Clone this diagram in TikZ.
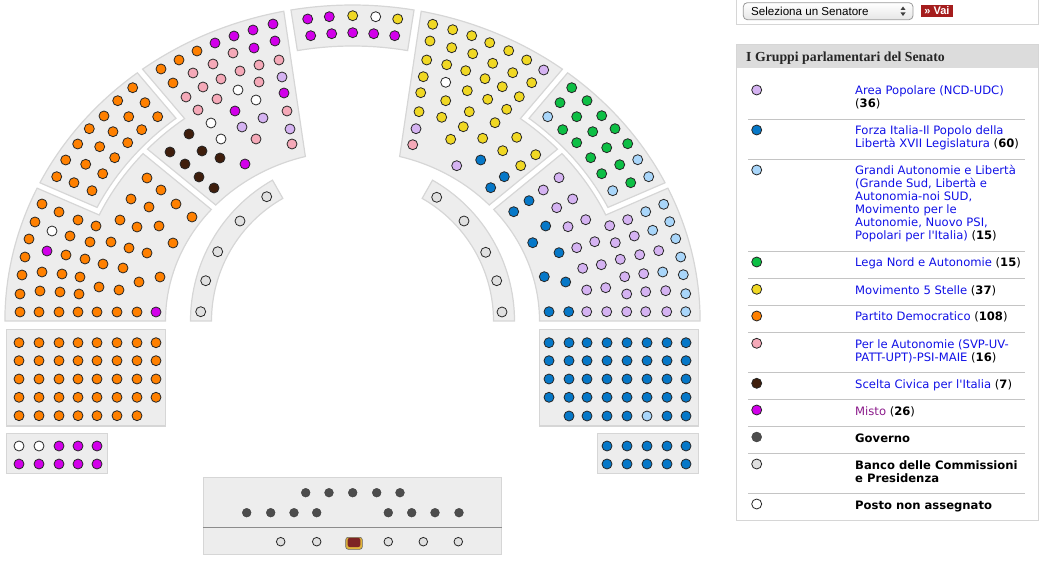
\documentclass[tikz,border=0pt]{standalone}
\usepackage{fontspec}
\newfontfamily\verdfont{DejaVu Sans}
\newfontfamily\headfont{Liberation Serif}
\newfontfamily\selfont{Liberation Sans}
\usepackage{xcolor}
\definecolor{blockfill}{HTML}{EDEDED}
\definecolor{blockline}{HTML}{D6D6D6}
\definecolor{pdorange}{HTML}{FF8000}
\definecolor{mistomag}{HTML}{D200EA}
\definecolor{autpink}{HTML}{F5A9B8}
\definecolor{aplav}{HTML}{D5B3F2}
\definecolor{scbrown}{HTML}{3F1E0C}
\definecolor{msyellow}{HTML}{F0D824}
\definecolor{lngreen}{HTML}{0DBF45}
\definecolor{fiblue}{HTML}{0678C8}
\definecolor{galblue}{HTML}{A9D6FA}
\definecolor{govgray}{HTML}{4D4D4D}
\definecolor{comgray}{HTML}{E0E0E0}
\definecolor{linkblue}{HTML}{1010E6}
\definecolor{mistotext}{HTML}{8B1A8B}
\definecolor{vaired}{HTML}{A51D1D}
\definecolor{headgray}{HTML}{DCDCDC}
\definecolor{sepgray}{HTML}{C4C4C4}
\definecolor{presred}{HTML}{7E2424}
\definecolor{presgold}{HTML}{E0B43C}

\tikzset{
  block/.style={fill=blockfill, draw=blockline, line width=1.2pt},
  seat/.style={draw=black!85, line width=0.8pt},
  gov/.style={fill=govgray, draw=govgray!80!black, line width=0.4pt},
  comseat/.style={fill=comgray, draw=black!85, line width=0.8pt},
  legsep/.style={draw=sepgray, line width=0.9pt},
  legtext/.style={anchor=base west, inner sep=0pt, align=left, text=linkblue, font=\verdfont\fontsize{11.6}{13}\selectfont},
}

\begin{document}
\begin{tikzpicture}[x=1pt, y=-1pt]
\useasboundingbox (0,0) rectangle (1047,561);

% hemicycle, stretched sideways
\begin{scope}[shift={(352.5,321)}, xscale=1.1, yscale=-1]
\draw[block] (180:316) arc[start angle=180, end angle=155.14, radius=316] -- (155.28:253.5) arc[start angle=155.28, end angle=138.68, radius=253.5] -- (139.01:170) arc[start angle=139.01, end angle=180, radius=170] -- cycle;
\draw[block] (154.06:316) arc[start angle=154.06, end angle=128.24, radius=316] -- (128.37:258.5) arc[start angle=128.37, end angle=153.94, radius=258.5] -- cycle;
\draw[block] (127.16:316) arc[start angle=127.16, end angle=101.4, radius=316] -- (104.6:170) arc[start angle=104.6, end angle=136.99, radius=170] -- (137.32:253.5) arc[start angle=137.32, end angle=127.02, radius=253.5] -- cycle;
\draw[block] (100.2:316) arc[start angle=100.2, end angle=79.8, radius=316] -- (79.5:275) arc[start angle=79.5, end angle=100.5, radius=275] -- cycle;
\draw[block] (52.84:316) arc[start angle=52.84, end angle=78.6, radius=316] -- (75.4:170) arc[start angle=75.4, end angle=43.01, radius=170] -- (42.68:253.5) arc[start angle=42.68, end angle=52.98, radius=253.5] -- cycle;
\draw[block] (25.94:316) arc[start angle=25.94, end angle=51.76, radius=316] -- (51.63:258.5) arc[start angle=51.63, end angle=26.06, radius=258.5] -- cycle;
\draw[block] (0:316) arc[start angle=0, end angle=24.86, radius=316] -- (24.72:253.5) arc[start angle=24.72, end angle=41.32, radius=253.5] -- (40.99:170) arc[start angle=40.99, end angle=0, radius=170] -- cycle;
\end{scope}

% commission benches
\begin{scope}[shift={(352.5,321)}, yscale=-1]
\draw[block] (180:162) arc[start angle=180, end angle=119.6, radius=162] -- (119.6:141) arc[start angle=119.6, end angle=180, radius=141] -- cycle;
\draw[block] (0:162) arc[start angle=0, end angle=60.4, radius=162] -- (60.4:141) arc[start angle=60.4, end angle=0, radius=141] -- cycle;
\end{scope}

\draw[block] (6.7,329.3) rectangle (165.7,426);
\draw[block] (6.7,433.3) rectangle (107.3,473.3);
\draw[block] (539.3,329.3) rectangle (698.3,426);
\draw[block] (597.7,433.3) rectangle (698.3,473.3);
\draw[block] (203.3,477.3) rectangle (501.7,554.3);
\draw[black!45, line width=1pt] (203.3,527.3) -- (501.7,527.3);

% Partito Democratico
\foreach \x/\y in {20/312, 39/312, 59/312, 78/312, 97/312, 117/312, 137/312,
  42/204, 35/222, 29/239, 25/257, 22/275, 20/294, 59/212, 42/272, 40/291,
  78/220, 70/236, 66/255, 62/274, 60/292, 96/226, 90/242, 85/259, 80/277, 79/294,
  147/178, 131/199, 120/220, 111/242, 103/264, 99/287, 161/190, 149/207, 137/227, 129/248, 123/268, 119/290,
  176/204, 159/226, 147/253, 139/282, 192/217, 173/243, 160/277,
  132.7/87.7, 117.7/100.7, 145/102.7, 104/116, 128.7/116.7, 157.7/116.7, 89.3/128.7, 113/131.7, 141.7/129.7,
  77.7/144, 99.7/146.7, 127.7/142.7, 65.7/160, 85.7/164.3, 114.7/157.7, 56.7/176.7, 74/182.7, 102.7/173.7, 92/190.7,
  161/69, 179/60, 197/51, 173/83}
  \draw[seat, fill=pdorange] (\x,\y) circle (5);
\foreach \y in {342.7, 360.7, 379, 397.3}
  \foreach \x in {19, 39, 59, 78, 97, 117, 137, 156}
    \draw[seat, fill=pdorange] (\x,\y) circle (5);
\foreach \x in {19, 39, 59, 78, 97, 117, 137}
  \draw[seat, fill=pdorange] (\x,415.7) circle (5);

% Misto
\foreach \x/\y in {47/251, 156/312, 215/43, 234/36, 253/30, 273/24, 254/48, 275/41, 235/111, 284/93, 245/164,
  307.7/19, 329.3/16.7, 310.7/35.7, 331.7/33.7, 352.7/32.7, 373.7/33.7, 394.7/35.7,
  59/446, 78/446, 97/446, 19/464, 39/464, 59/464, 78/464, 97/464}
  \draw[seat, fill=mistomag] (\x,\y) circle (5);

% Per le Autonomie
\foreach \x/\y in {193/73, 213/64, 233/53, 186/97, 203/87, 221/79, 240/71, 259/65, 279/60, 198/110, 217/99,
  259/82, 287/111, 256/139, 292/144, 412.7/144.7}
  \draw[seat, fill=autpink] (\x,\y) circle (5);

% Scelta Civica
\foreach \x/\y in {189/134, 170/152, 202/151, 220/158, 185/164, 199/177, 214/188}
  \draw[seat, fill=scbrown] (\x,\y) circle (5);

% posti non assegnati
\foreach \x/\y in {52/231, 238/90, 211/123, 256/100, 221/139, 375.7/16.7, 445.7/82.3, 19/446, 39/446}
  \draw[seat, fill=white] (\x,\y) circle (5);

% Area Popolare
\foreach \x/\y in {282/77, 242/127, 263/118, 290/129, 543.7/70, 416/128.7, 456.7/165.7,
  559/177.7, 543.3/190, 572.7/199, 556.7/207.7, 568/226.7, 585.7/219.7, 609.7/225.7, 627.7/219.7,
  576.7/247.7, 594.7/241.7, 615.3/242.7, 634.3/236, 582.7/268.3, 601.3/264.7, 620.3/259.3, 639.7/254.7, 658.7/250.7,
  624.7/276.7, 643.7/273.7, 586.7/290, 605.7/287.7, 626.7/294, 645.7/291.7, 665.7/290.7,
  586.7/311.7, 606.7/311.7, 626.7/311.7, 645.7/311.7, 666.7/311.7}
  \draw[seat, fill=aplav] (\x,\y) circle (5);

% Movimento 5 Stelle
\foreach \x/\y in {352.7/15.7, 397.7/19,
  432.7/24.3, 452.7/29.7, 471.7/35.7, 489.7/42.7, 508.7/50.7, 526.7/60,
  430/41, 451.7/47.7, 472.7/53.7, 492.7/63.3, 512.7/72.7, 531.7/82.7,
  426.7/60, 446.7/64.7, 465.7/70.7, 485/78.7, 502.3/86.7, 519.3/96.7,
  423.3/76.7, 467.3/90.7, 487.7/99.3, 506.7/109.3, 420.7/92.7, 445.7/100.7, 469.3/111.7, 495/122.7,
  419/111.7, 441.7/117.3, 463.3/126.7, 450.7/139.3, 482.7/138.3, 516.7/137.3, 502.7/150.7, 535.7/154.7, 520.7/165.7}
  \draw[seat, fill=msyellow] (\x,\y) circle (5);

% Lega Nord
\foreach \x/\y in {571.7/87.7, 560/102.7, 587/100.7, 576.7/116.7, 601.7/115.7, 562.7/129.7, 592.7/131.7, 615/128.7,
  576.7/142.7, 606.7/147.7, 627.7/143.7, 590.7/157.7, 619.7/164.7, 601.7/173.7, 630.7/182.7}
  \draw[seat, fill=lngreen] (\x,\y) circle (5);

% Grandi Autonomie e Liberta
\foreach \x/\y in {547.7/116.7, 637.7/159.7, 648.7/176.7, 612.7/190.7, 645.7/211.7, 663.7/204.3, 669.7/221.7,
  652.7/230.3, 675.7/238.7, 680.7/257, 662.7/272, 683.3/274.7, 685.7/293.7, 685.7/311.7, 647/416}
  \draw[seat, fill=galblue] (\x,\y) circle (5);

% Forza Italia
\foreach \x/\y in {480.7/160, 504.3/176.7, 490.7/187.7, 529/200.7, 513.7/211.7, 545.7/226, 532.7/242.7,
  559/252.7, 544.3/276.7, 565.7/282, 549/311.7, 568.7/311.7}
  \draw[seat, fill=fiblue] (\x,\y) circle (5);
\foreach \y in {342.7, 360.7, 379, 397.3}
  \foreach \x in {549, 569, 587, 607, 627, 647, 667, 686}
    \draw[seat, fill=fiblue] (\x,\y) circle (5);
\foreach \x in {569, 587, 607, 627, 667, 686}
  \draw[seat, fill=fiblue] (\x,416) circle (5);
\foreach \y in {446, 464}
  \foreach \x in {607, 627, 647, 667, 686}
    \draw[seat, fill=fiblue] (\x,\y) circle (5);

% commissioni e governo
\foreach \x/\y in {266.7/196.7, 240/221, 217.7/251.7, 205.7/280.7, 200.7/311.7,
  436.7/197.3, 464/221, 485.7/252.3, 496.7/280.7, 502/312}
  \draw[comseat] (\x,\y) circle (5);
\foreach \x in {305.7, 329, 352.7, 376.7, 400}
  \draw[gov] (\x,492.7) circle (4.4);
\foreach \x in {246.7, 270.7, 294, 316.7, 388.3, 411.7, 435, 459}
  \draw[gov] (\x,512.7) circle (4.4);
\foreach \x in {280.7, 316.7, 388.3, 423.3, 458.3}
  \draw[comseat] (\x,541.7) circle (4.3);
\filldraw[fill=presgold, draw=black!60, line width=0.6pt, rounded corners=2.5pt] (345.7,537.3) rectangle (362.3,549.3);
\fill[presred, rounded corners=2pt] (347.7,537.9) rectangle (360.3,547);

% selector
\draw[blockline, line width=1pt] (736.7,0) -- (736.7,25) -- (1038.3,25) -- (1038.3,0);
\shade[top color=white, bottom color=black!10, rounded corners=4pt] (743.3,2.7) rectangle (913,19.7);
\draw[black!40, rounded corners=4pt, line width=0.8pt] (743.3,2.7) rectangle (913,19.7);
\node[anchor=base west, inner sep=0pt, font=\selfont\fontsize{11.6}{13}\selectfont] (selnode) at (751,15.5) {Seleziona un Senatore};
\fill[black!75] (900.5,10) -- (905.5,10) -- (903,6.5) -- cycle;
\fill[black!75] (900.5,12.5) -- (905.5,12.5) -- (903,16) -- cycle;
\node[fill=vaired, text=white, inner sep=0pt, minimum width=32pt, minimum height=12pt, font=\selfont\bfseries\fontsize{11}{12}\selectfont] (vai) at (937,11) {» Vai};

% legenda
\draw[blockline, line width=1pt] (736.7,45) rectangle (1038.3,520.3);
\fill[headgray] (737.2,45.5) rectangle (1037.8,68.3);
\node[anchor=base west, inner sep=0pt, text=black!85, font=\headfont\bfseries\fontsize{13.8}{16}\selectfont] (ghead) at (746,61.5) {I Gruppi parlamentari del Senato};

\foreach \y in {119.3, 159.3, 251.7, 278.7, 305.3, 332.3, 372.3, 399.3, 426.3, 453.3, 493.3}
  \draw[legsep] (748.3,\y) -- (1025,\y);

\draw[seat, fill=aplav] (756.7,90) circle (5);
\draw[seat, fill=fiblue] (756.7,130) circle (5);
\draw[seat, fill=galblue] (756.7,170) circle (5);
\draw[seat, fill=lngreen] (756.7,262) circle (5);
\draw[seat, fill=msyellow] (756.7,289.3) circle (5);
\draw[seat, fill=pdorange] (756.7,316) circle (5);
\draw[seat, fill=autpink] (756.7,343.3) circle (5);
\draw[seat, fill=scbrown] (756.7,383.3) circle (5);
\draw[seat, fill=mistomag] (756.7,410) circle (5);
\draw[gov] (756.7,437) circle (5);
\draw[comseat] (756.7,464) circle (5);
\draw[seat, fill=white] (756.7,504) circle (5);

% multi-line texts sit on their last baseline
\node[legtext] (apop) at (855,108) {Area Popolare (NCD-UDC)\\\textcolor{black}{(\textbf{36})}};
\node[legtext] (fital) at (855,148) {Forza Italia-Il Popolo della\\Libertà XVII Legislatura \textcolor{black}{(\textbf{60})}};
\node[legtext] (gal) at (855,240) {Grandi Autonomie e Libertà\\(Grande Sud, Libertà e\\Autonomia-noi SUD,\\Movimento per le\\Autonomie, Nuovo PSI,\\Popolari per l'Italia) \textcolor{black}{(\textbf{15})}};
\node[legtext] (lega) at (855,267) {Lega Nord e Autonomie \textcolor{black}{(\textbf{15})}};
\node[legtext] (mcinque) at (855,294.3) {Movimento 5 Stelle \textcolor{black}{(\textbf{37})}};
\node[legtext] (pdem) at (855,321) {Partito Democratico \textcolor{black}{(\textbf{108})}};
\node[legtext] (autn) at (855,361.3) {Per le Autonomie (SVP-UV-\\PATT-UPT)-PSI-MAIE \textcolor{black}{(\textbf{16})}};
\node[legtext] (sciv) at (855,388.3) {Scelta Civica per l'Italia \textcolor{black}{(\textbf{7})}};
\node[legtext] (misto) at (855,415) {\textcolor{mistotext}{Misto} \textcolor{black}{(\textbf{26})}};
\node[legtext, text=black] (govn) at (855,442) {\textbf{Governo}};
\node[legtext, text=black] (banco) at (855,482) {\textbf{Banco delle Commissioni}\\\textbf{e Presidenza}};
\node[legtext, text=black] (posto) at (855,509) {\textbf{Posto non assegnato}};

\end{tikzpicture}
\end{document}
